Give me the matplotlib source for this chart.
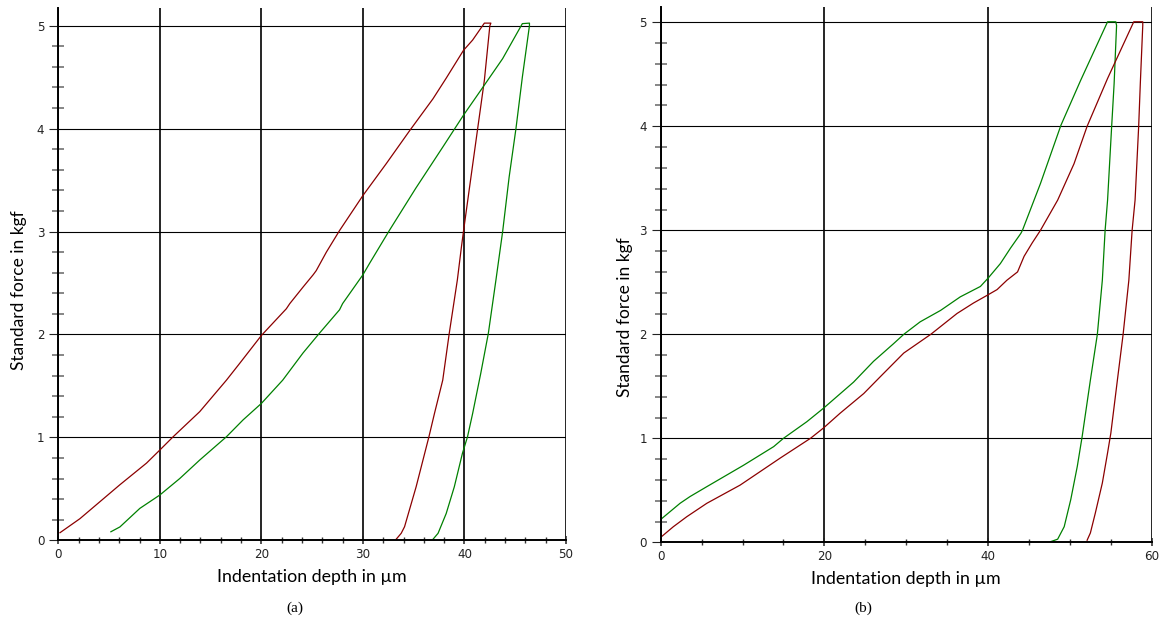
import matplotlib.pyplot as plt
from matplotlib.ticker import MultipleLocator

# ---- panel (a) ----
a_red_depth = [0.17, 2.13, 4.1, 6.07, 8.69, 10.0, 11.3, 13.93, 16.56, 17.87, 20.0, 22.46, 22.8, 24.1,
               25.1, 25.4, 26.4, 27.7, 30.0, 32.3, 34.6, 36.9, 38.2, 39.9, 40.8, 41.96, 42.6,
               42.5, 41.96, 41.3, 40.5, 39.9, 39.7, 39.3, 38.5, 37.86, 37.04, 36.5, 35.24, 34.1, 33.77, 33.27]
a_red_force = [0.074, 0.21, 0.375, 0.54, 0.75, 0.877, 1.005, 1.25, 1.556, 1.72, 1.99, 2.25, 2.3, 2.46,
               2.58, 2.62, 2.80, 3.01, 3.35, 3.66, 3.98, 4.29, 4.49, 4.76, 4.86, 5.025, 5.025,
               5.0, 4.47, 4.0, 3.43, 3.0, 2.85, 2.53, 2.01, 1.556, 1.23, 1.006, 0.52, 0.132, 0.068, 0.01]

a_green_depth = [5.18, 6.07, 8.03, 10.0, 11.96, 13.93, 16.56, 18.2, 20.0, 22.1, 24.1, 25.7, 27.7, 28.0,
                 30.0, 30.65, 32.6, 35.2, 37.86, 39.9, 41.8, 43.76, 45.7, 46.4,
                 46.4, 45.7, 45.07, 44.4, 43.76, 43.1, 42.35, 41.6, 40.8, 40.3, 39.8, 39.0, 38.2, 37.4, 36.9]
a_green_force = [0.083, 0.13, 0.31, 0.44, 0.60, 0.78, 1.006, 1.17, 1.33, 1.556, 1.82, 2.01, 2.24, 2.30,
                 2.58, 2.69, 3.01, 3.42, 3.82, 4.13, 4.40, 4.68, 5.02, 5.025,
                 5.0, 4.5, 4.0, 3.53, 3.0, 2.53, 2.01, 1.62, 1.23, 1.006, 0.845, 0.52, 0.26, 0.068, 0.01]

# ---- panel (b) ----
b_green_depth = [0, 2.36, 3.58, 5.63, 10.1, 13.8, 15.0, 17.86, 19.9, 23.56, 26.0, 28.45, 29.7, 31.7,
                 34.2, 36.6, 39.06, 40.0, 41.5, 42.75, 44.0, 44.2, 46.4, 48.9, 51.3, 54.6, 55.6,
                 55.7, 55.4, 55.1, 54.6, 54.3, 53.96, 53.35, 52.5, 51.5, 50.9, 50.1, 49.3, 48.5, 47.6]
b_green_force = [0.22, 0.375, 0.44, 0.535, 0.74, 0.92, 1.0, 1.16, 1.29, 1.54, 1.74, 1.91, 2.0, 2.12,
                 2.23, 2.36, 2.46, 2.54, 2.68, 2.83, 2.97, 3.0, 3.45, 4.01, 4.44, 5.005, 5.005,
                 4.97, 4.41, 4.0, 3.29, 3.0, 2.52, 2.0, 1.56, 1.02, 0.73, 0.41, 0.15, 0.03, 0.005]

b_red_depth = [0, 1.54, 3.18, 5.63, 9.7, 14.6, 18.3, 19.9, 21.9, 24.8, 26.8, 29.7, 33.0, 36.2, 38.2,
               40.0, 41.1, 42.3, 43.6, 44.4, 45.4, 46.4, 48.5, 50.5, 52.1, 54.6, 57.8, 58.9,
               58.9, 58.6, 58.4, 57.96, 57.6, 57.2, 56.5, 55.8, 55.0, 54.6, 53.96, 53.1, 52.5, 52.1]
b_red_force = [0.048, 0.15, 0.246, 0.375, 0.55, 0.81, 1.0, 1.10, 1.24, 1.43, 1.59, 1.82, 2.0, 2.20, 2.30,
               2.38, 2.43, 2.52, 2.60, 2.75, 2.88, 3.0, 3.29, 3.64, 4.0, 4.46, 5.005, 5.005,
               4.97, 4.41, 4.0, 3.29, 3.0, 2.52, 2.0, 1.56, 1.05, 0.86, 0.57, 0.28, 0.09, 0.02]

RED = '#8b0000'
GREEN = '#008000'

fig = plt.figure(figsize=(11.68, 6.26), dpi=100)
ax1 = fig.add_axes([0.0499, 0.1369, 0.4347, 0.850])
ax2 = fig.add_axes([0.5657, 0.1337, 0.4204, 0.8556])


def style_axes(ax, xmax, ytop, xmajor, xminor, label_x, label_y):
    ax.set_xlim(0, xmax)
    ax.set_ylim(0, ytop)
    ax.xaxis.set_major_locator(MultipleLocator(xmajor))
    ax.xaxis.set_minor_locator(MultipleLocator(xminor))
    ax.yaxis.set_major_locator(MultipleLocator(1))
    ax.yaxis.set_minor_locator(MultipleLocator(0.2))
    for s in ['top', 'right']:
        ax.spines[s].set_visible(False)
    for s in ['left', 'bottom']:
        ax.spines[s].set_linewidth(1.4)
        ax.spines[s].set_color('black')
    ax.grid(True, which='major', axis='x', color='black', linewidth=1.2)
    ax.grid(True, which='major', axis='y', color='black', linewidth=0.8)
    ax.set_axisbelow(True)
    ax.tick_params(axis='x', which='major', direction='inout', length=6, width=1.1, pad=2.5,
                   labelsize=8.6, colors='#222222')
    ax.tick_params(axis='x', which='minor', direction='inout', length=5, width=1.0, color='#333333')
    ax.tick_params(axis='y', which='major', direction='out', length=6.5, width=0.8, pad=3.5,
                   labelsize=8.6, colors='#222222')
    ax.tick_params(axis='y', which='minor', direction='inout', length=8, width=1.1, color='#666666')
    for lab in ax.get_xticklabels() + ax.get_yticklabels():
        lab.set_family('DejaVu Sans')
    ax.set_xlabel('Indentation depth in µm', family='Lato', fontsize=12.8, labelpad=6)
    ax.set_ylabel('Standard force in kgf', family='Lato', fontsize=12.5)
    ax.yaxis.set_label_coords(label_x, label_y)


style_axes(ax1, 50, 5.17, 10, 2, -0.062, 0.47)
style_axes(ax2, 60, 5.15, 20, 5, -0.057, 0.42)

ax1.plot(a_red_depth, a_red_force, color=RED, linewidth=0.9)
ax1.plot(a_green_depth, a_green_force, color=GREEN, linewidth=0.9)
ax2.plot(b_green_depth, b_green_force, color=GREEN, linewidth=0.9)
ax2.plot(b_red_depth, b_red_force, color=RED, linewidth=0.9)

fig.text(295 / 1168, 1 - 608 / 626, '(a)', family='Liberation Serif', fontsize=11,
         ha='center', va='center')
fig.text(863 / 1168, 1 - 608 / 626, '(b)', family='Liberation Serif', fontsize=11,
         ha='center', va='center')

fig.savefig('out.png', dpi=100)
